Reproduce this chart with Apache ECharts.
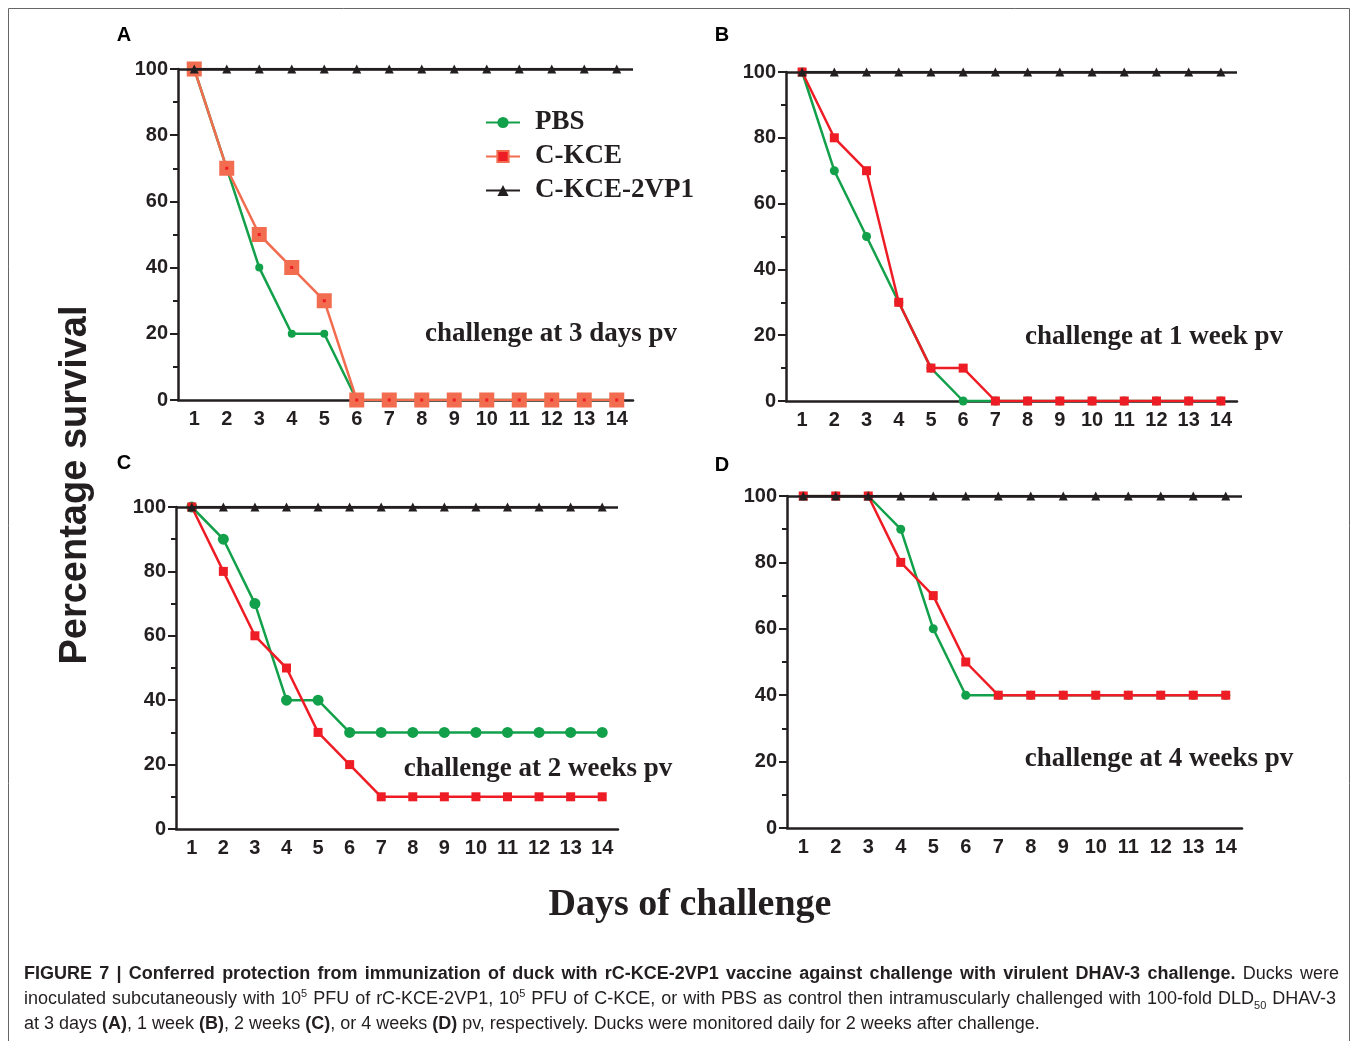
<!DOCTYPE html>
<html>
<head>
<meta charset="utf-8">
<script src="https://cdn.jsdelivr.net/npm/echarts@6/dist/echarts.min.js"></script>
<style>
  body { margin: 0; background: #fff; }
  #main { width: 1357px; height: 1041px; }
  .cap {
    position: absolute; left: 24px; width: 1315px;
    font-family: 'Liberation Sans', Arial, sans-serif; font-size: 18px; color: #231f20;
    white-space: nowrap; line-height: 20px;
  }
  .cap.j { text-align: justify; text-align-last: justify; white-space: normal; }
  .cap sup, .cap sub { font-size: 11px; line-height: 0; }
</style>
</head>
<body>
<div id="main"></div>
<div class="cap j" style="top:963px"><b>FIGURE 7 | Conferred protection from immunization of duck with rC-KCE-2VP1 vaccine against challenge with virulent DHAV-3 challenge.</b> Ducks were</div>
<div class="cap j" style="top:988px;width:1312px">inoculated subcutaneously with 10<sup>5</sup> PFU of rC-KCE-2VP1, 10<sup>5</sup> PFU of C-KCE, or with PBS as control then intramuscularly challenged with 100-fold DLD<sub>50</sub> DHAV-3</div>
<div class="cap" style="top:1013px">at 3 days <b>(A)</b>, 1 week <b>(B)</b>, 2 weeks <b>(C)</b>, or 4 weeks <b>(D)</b> pv, respectively. Ducks were monitored daily for 2 weeks after challenge.</div>
<script>
// days after challenge
const days = ['1','2','3','4','5','6','7','8','9','10','11','12','13','14'];
const yTicks = [0, 20, 40, 60, 80, 100];

// A: challenge at 3 days pv
const pbsA  = [100, 70, 40, 20, 20, 0, 0, 0, 0, 0, 0, 0, 0, 0];
const kceA  = [100, 70, 50, 40, 30, 0, 0, 0, 0, 0, 0, 0, 0, 0];
const vp1A  = [100, 100, 100, 100, 100, 100, 100, 100, 100, 100, 100, 100, 100, 100];
// B: challenge at 1 week pv
const pbsB  = [100, 70, 50, 30, 10, 0, 0, 0, 0, 0, 0, 0, 0, 0];
const kceB  = [100, 80, 70, 30, 10, 10, 0, 0, 0, 0, 0, 0, 0, 0];
const vp1B  = [100, 100, 100, 100, 100, 100, 100, 100, 100, 100, 100, 100, 100, 100];
// C: challenge at 2 weeks pv
const pbsC  = [100, 90, 70, 40, 40, 30, 30, 30, 30, 30, 30, 30, 30, 30];
const kceC  = [100, 80, 60, 50, 30, 20, 10, 10, 10, 10, 10, 10, 10, 10];
const vp1C  = [100, 100, 100, 100, 100, 100, 100, 100, 100, 100, 100, 100, 100, 100];
// D: challenge at 4 weeks pv
const pbsD  = [100, 100, 100, 90, 60, 40, 40, 40, 40, 40, 40, 40, 40, 40];
const kceD  = [100, 100, 100, 80, 70, 50, 40, 40, 40, 40, 40, 40, 40, 40];
const vp1D  = [100, 100, 100, 100, 100, 100, 100, 100, 100, 100, 100, 100, 100, 100];

const panels = [
  {letter: 'A', note: 'challenge at 3 days pv',   pbs: pbsA, kce: kceA, vp1: vp1A,
   grid: {left: 178, top: 69, width: 455, height: 331}, letterPos: [124, 35], notePos: [551, 334]},
  {letter: 'B', note: 'challenge at 1 week pv',   pbs: pbsB, kce: kceB, vp1: vp1B,
   grid: {left: 786, top: 72, width: 451, height: 329}, letterPos: [722, 35], notePos: [1154, 337]},
  {letter: 'C', note: 'challenge at 2 weeks pv',  pbs: pbsC, kce: kceC, vp1: vp1C,
   grid: {left: 176, top: 507, width: 442, height: 322}, letterPos: [124, 463], notePos: [538, 769]},
  {letter: 'D', note: 'challenge at 4 weeks pv',  pbs: pbsD, kce: kceD, vp1: vp1D,
   grid: {left: 787, top: 496, width: 455, height: 332}, letterPos: [722, 465], notePos: [1159, 759]},
];

const ink = '#231f20';
const green = '#12a04a';
const red = '#ee1c25';
const orange = '#f26c4f';
const tickFont = {fontFamily: "'Liberation Sans Narrow', 'Liberation Sans', Arial, sans-serif", fontWeight: 'bold', fontSize: 20, color: ink};

const grids = [], xAxes = [], yAxes = [], series = [], graphics = [];

panels.forEach((p, i) => {
  grids.push(p.grid);
  xAxes.push({
    type: 'category', gridIndex: i, data: days, boundaryGap: true,
    axisLine: {lineStyle: {color: ink, width: 2.5}},
    axisTick: {alignWithLabel: true, length: 6, lineStyle: {color: ink, width: 2}},
    axisLabel: Object.assign({margin: 9, interval: 0}, tickFont),
    splitLine: {show: false},
  });
  yAxes.push({
    type: 'value', gridIndex: i, min: yTicks[0], max: yTicks[yTicks.length - 1], interval: 20,
    axisLine: {show: true, lineStyle: {color: ink, width: 2.5}},
    axisTick: {show: true, length: 8, lineStyle: {color: ink, width: 2}},
    minorTick: {show: true, splitNumber: 2, length: 5, lineStyle: {color: ink, width: 2}},
    axisLabel: Object.assign({margin: 10}, tickFont),
    splitLine: {show: false},
  });
  const first = i === 0;
  series.push({
    name: 'PBS', type: 'line', xAxisIndex: i, yAxisIndex: i, data: p.pbs,
    symbol: 'circle', symbolSize: first ? 8 : (i === 2 ? 11 : 9),
    itemStyle: {color: green}, lineStyle: {color: green, width: 2.5}, z: 2,
  });
  series.push({
    name: 'C-KCE', type: 'line', xAxisIndex: i, yAxisIndex: i, data: p.kce,
    symbol: 'rect', symbolSize: 9,
    itemStyle: first ? {color: red, borderColor: orange, borderWidth: 6} : {color: red},
    lineStyle: {color: first ? orange : red, width: 2.5}, z: 3,
  });
  series.push({
    name: 'C-KCE-2VP1', type: 'line', xAxisIndex: i, yAxisIndex: i, data: p.vp1,
    symbol: 'triangle', symbolSize: 9,
    itemStyle: {color: ink}, lineStyle: {color: ink, width: 2.5}, z: 4,
    markLine: {
      silent: true, symbol: 'none', label: {show: false},
      lineStyle: {color: ink, width: 2.5, type: 'solid'},
      data: [{yAxis: p.vp1[p.vp1.length - 1]}],
    },
  });
  graphics.push({
    type: 'text', x: p.letterPos[0], y: p.letterPos[1],
    style: {text: p.letter, font: "bold 20px 'Liberation Sans', Arial, sans-serif", fill: '#000', textAlign: 'center', textVerticalAlign: 'middle'},
  });
  graphics.push({
    type: 'text', x: p.notePos[0], y: p.notePos[1],
    style: {text: p.note, font: "bold 27px 'Liberation Serif', 'Times New Roman', serif", fill: ink, textAlign: 'center', textVerticalAlign: 'middle'},
  });
});

// figure frame and shared axis titles
graphics.push({
  type: 'rect', shape: {x: 8.5, y: 8.5, width: 1341, height: 1060},
  style: {fill: 'none', stroke: '#666', lineWidth: 1}, z: -1,
});
graphics.push({
  type: 'text', x: 76, y: 485, rotation: Math.PI / 2,
  style: {text: 'Percentage survival', font: "bold 38px 'Liberation Sans', Arial, sans-serif", fill: ink, textAlign: 'center', textVerticalAlign: 'middle'},
});
graphics.push({
  type: 'text', x: 690, y: 905,
  style: {text: 'Days of challenge', font: "bold 38px 'Liberation Serif', 'Times New Roman', serif", fill: ink, textAlign: 'center', textVerticalAlign: 'middle'},
});

const chart = echarts.init(document.getElementById('main'), null, {renderer: 'canvas'});
chart.setOption({
  animation: false,
  backgroundColor: '#fff',
  grid: grids,
  xAxis: xAxes,
  yAxis: yAxes,
  legend: {
    orient: 'vertical', left: 480, top: 104,
    itemWidth: 34, itemHeight: 14, itemGap: 7,
    data: ['PBS', 'C-KCE', 'C-KCE-2VP1'],
    textStyle: {fontFamily: "'Liberation Serif', 'Times New Roman', serif", fontWeight: 'bold', fontSize: 27, color: ink, padding: [0, 0, 0, 10]},
  },
  series: series,
  graphic: graphics,
});
</script>
</body>
</html>
